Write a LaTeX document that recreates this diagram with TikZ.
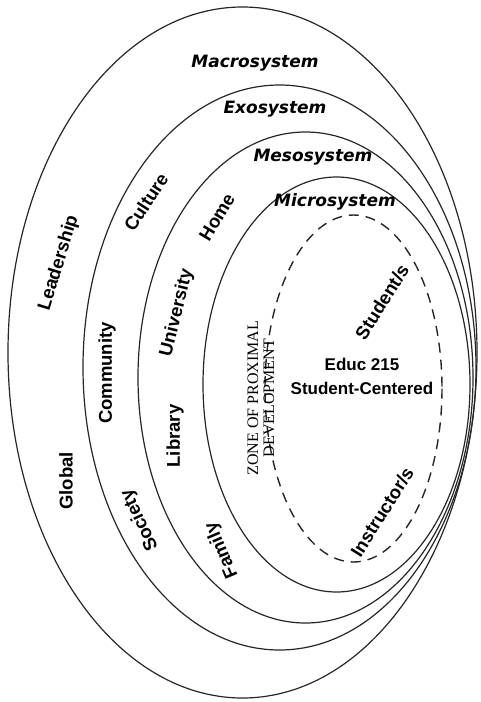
\documentclass[tikz,border=0pt]{standalone}
\usepackage{fontspec}
\setmainfont{Liberation Sans}
\newfontfamily\sysfont{DejaVu Sans}
\newfontfamily\zpdfont{Liberation Serif}
\usepackage{tikz}
\usetikzlibrary{positioning}
\tikzset{
  ring/.style={draw=black!85, line width=1.2pt},
  zpdring/.style={draw=black!85, line width=1.4pt, dash pattern=on 10pt off 7pt},
  sys/.style={font=\sysfont\bfseries\itshape\fontsize{17}{20}\selectfont, inner sep=1pt},
  lay/.style={font=\bfseries\fontsize{18.5}{20}\selectfont, inner sep=1pt},
  core/.style={font=\bfseries\fontsize{17}{24}\selectfont, align=center, inner sep=1pt},
  zpd/.style={font=\zpdfont\fontsize{16}{16}\selectfont, align=center, inner sep=1pt}
}

\begin{document}
\begin{tikzpicture}[x=1pt, y=-1pt]
  \useasboundingbox (0,0) rectangle (480,702);
  % Rings (outer to inner)
  \draw[ring] (242.5,352.5) ellipse [x radius=234.5, y radius=345.5];
  \draw[ring] (279.5,367.5) ellipse [x radius=196.5, y radius=282.5];
  \draw[ring] (305.5,377.5) ellipse [x radius=167.5, y radius=245.5];
  \draw[ring] (336.5,384.5) ellipse [x radius=133.5, y radius=207.5];
  \draw[zpdring] (353.5,388.5) ellipse [x radius=88.5, y radius=173.5];
  % System names
  \node[sys] (macro) at (255,63) {Macrosystem};
  \node[sys] (exo) at (275,109) {Exosystem};
  \node[sys] (meso) at (313,157) {Mesosystem};
  \node[sys] (micro) at (335,202) {Microsystem};
  % Macrosystem ring
  \node[lay, rotate=73] (lead) at (59,263) {Leadership};
  \node[lay, rotate=90] (glob) at (66,481) {Global};
  % Exosystem ring
  \node[lay, rotate=57] (cult) at (146,202) {Culture};
  \node[lay, rotate=90] (comm) at (107,373) {Community};
  \node[lay, rotate=115] (soc) at (140,520) {Society};
  % Mesosystem ring
  \node[lay, rotate=59] (home) at (217,217) {Home};
  \node[lay, rotate=76] (univ) at (177,313) {University};
  \node[lay, rotate=90] (lib) at (175,436) {Library};
  \node[lay, rotate=113] (fam) at (222,550) {Family};
  % Microsystem ring
  \node[zpd, rotate=90] (zone) at (261,398) {ZONE OF PROXIMAL\\DEVELOPMENT};
  \node[lay, rotate=58] (stud) at (382,302) {Student/s};
  \node[lay, rotate=58] (inst) at (382,512) {Instructor/s};
  \node[core] (educ) at (362,376) {Educ 215\\Student-Centered};
\end{tikzpicture}
\end{document}
